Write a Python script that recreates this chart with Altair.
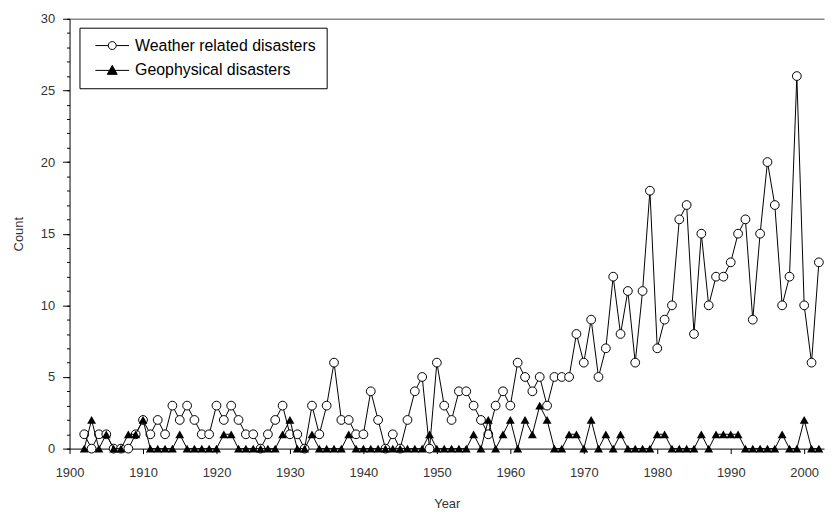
import altair as alt
import pandas as pd

years = list(range(1902, 2003))

weather = [
    1, 0, 1, 1, 0, 0, 0, 1,            # 1902-1909
    2, 1, 2, 1, 3, 2, 3, 2, 1, 1,      # 1910-1919
    3, 2, 3, 2, 1, 1, 0, 1, 2, 3,      # 1920-1929
    1, 1, 0, 3, 1, 3, 6, 2, 2, 1,      # 1930-1939
    1, 4, 2, 0, 1, 0, 2, 4, 5, 0,      # 1940-1949
    6, 3, 2, 4, 4, 3, 2, 1, 3, 4,      # 1950-1959
    3, 6, 5, 4, 5, 3, 5, 5, 5, 8,      # 1960-1969
    6, 9, 5, 7, 12, 8, 11, 6, 11, 18,  # 1970-1979
    7, 9, 10, 16, 17, 8, 15, 10, 12, 12,   # 1980-1989
    13, 15, 16, 9, 15, 20, 17, 10, 12, 26, # 1990-1999
    10, 6, 13,                          # 2000-2002
]

geophysical = [
    0, 2, 0, 1, 0, 0, 1, 1,            # 1902-1909
    2, 0, 0, 0, 0, 1, 0, 0, 0, 0,      # 1910-1919
    0, 1, 1, 0, 0, 0, 0, 0, 0, 1,      # 1920-1929
    2, 0, 0, 1, 0, 0, 0, 0, 1, 0,      # 1930-1939
    0, 0, 0, 0, 0, 0, 0, 0, 0, 1,      # 1940-1949
    0, 0, 0, 0, 0, 1, 0, 2, 0, 1,      # 1950-1959
    2, 0, 2, 1, 3, 2, 0, 0, 1, 1,      # 1960-1969
    0, 2, 0, 1, 0, 1, 0, 0, 0, 0,      # 1970-1979
    1, 1, 0, 0, 0, 0, 1, 0, 1, 1,      # 1980-1989
    1, 1, 0, 0, 0, 0, 0, 1, 0, 0,      # 1990-1999
    2, 0, 0,                            # 2000-2002
]

names = ["Weather related disasters", "Geophysical disasters"]
x_ticks = list(range(1900, 2001, 10))
y_major = list(range(0, 31, 5))
y_minor = list(range(0, 31, 1))

rows = []
for yr, w, g in zip(years, weather, geophysical):
    rows.append({"year": yr, "series": names[0], "count": w})
    rows.append({"year": yr, "series": names[1], "count": g})
df = pd.DataFrame(rows)

FONT = "Liberation Sans"
xscale = alt.Scale(domain=[1900, 2002.7], nice=False, zero=False)
yscale = alt.Scale(domain=[0, 30], nice=False)

x_main = alt.X(
    "year:Q", scale=xscale,
    axis=alt.Axis(values=x_ticks, format="d", title="Year", orient="bottom",
                  grid=False, tickSize=5, labelPadding=13, labelFlush=False,
                  domainColor="black", tickColor="black", labelColor="#333",
                  labelFont=FONT, labelFontSize=13, titleFont=FONT,
                  titleFontSize=13, titleFontWeight="normal", titleColor="#333",
                  titlePadding=18),
)
y_main = alt.Y(
    "count:Q", scale=yscale,
    axis=alt.Axis(values=y_major, title="Count", orient="left", grid=False,
                  tickSize=7, labelPadding=8, domainColor="black",
                  tickColor="black", labelColor="#333", labelFont=FONT,
                  labelFontSize=13, titleFont=FONT, titleFontSize=13,
                  titleFontWeight="normal", titleColor="#333", titlePadding=15),
)
x_top = alt.X(
    "year:Q", scale=xscale,
    axis=alt.Axis(orient="top", labels=False, ticks=False, grid=False,
                  title=None, domainColor="#888", domainWidth=1.5),
)
y_minor_ax = alt.Y(
    "count:Q", scale=yscale,
    axis=alt.Axis(orient="left", values=y_minor, labels=False, tickSize=3,
                  grid=False, domain=False, title=None, tickColor="black"),
)
x_none = alt.X("year:Q", scale=xscale, axis=None)
y_none = alt.Y("count:Q", scale=yscale, axis=None)

base = alt.Chart(df)
wdata = base.transform_filter(alt.datum.series == names[0])
gdata = base.transform_filter(alt.datum.series == names[1])

w_line = wdata.mark_line(color="black", strokeWidth=1).encode(x=x_main, y=y_main)
w_pts = wdata.mark_point(shape="circle", filled=True, fill="white",
                         stroke="black", strokeWidth=1, size=78,
                         opacity=1).encode(x=x_top, y=y_minor_ax)
g_line = gdata.mark_line(color="black", strokeWidth=1).encode(x=x_none, y=y_none)
g_pts = gdata.mark_point(shape="triangle-up", filled=True, color="black",
                         size=80, opacity=1).encode(x=x_none, y=y_none)

# legend symbols: a short line with the marker in its middle
pw = ("M-3.4,0H-0.8M0.8,0H3.4M0.8,0A0.8,0.8,0,1,1,-0.8,0"
      "A0.8,0.8,0,1,1,0.8,0Z")
pg = "M-3.4,0H3.4M0,-1L1,0.8L-1,0.8Z"

leg = alt.Legend(title=None, orient="none", legendX=10, legendY=9,
                 strokeColor="black", fillColor="white", padding=10,
                 labelFont=FONT, labelFontSize=16, labelColor="black",
                 labelLimit=400, labelOffset=15, symbolOffset=15,
                 symbolSize=100, symbolStrokeWidth=1,
                 symbolStrokeColor="black", rowPadding=9)

legend_layer = base.transform_filter("false").mark_point(
    size=100, strokeWidth=1, opacity=1
).encode(
    x=x_none, y=y_none,
    shape=alt.Shape("series:N", scale=alt.Scale(domain=names, range=[pw, pg]),
                    legend=leg),
    fill=alt.Fill("series:N", scale=alt.Scale(domain=names,
                                              range=["white", "black"]),
                  legend=leg),
    stroke=alt.Stroke("series:N", scale=alt.Scale(domain=names,
                                                  range=["black", "black"]),
                      legend=leg),
)

chart = alt.layer(w_line, w_pts, g_line, g_pts, legend_layer).resolve_axis(
    x="independent", y="independent"
).properties(
    width=760, height=433,
    autosize=alt.AutoSizeParams(type="none"),
    padding={"left": 62, "top": 9, "right": 3, "bottom": 60},
    background="white",
).configure_view(strokeOpacity=0)

chart.save("out.html", embed_options={"renderer": "svg", "actions": False})
